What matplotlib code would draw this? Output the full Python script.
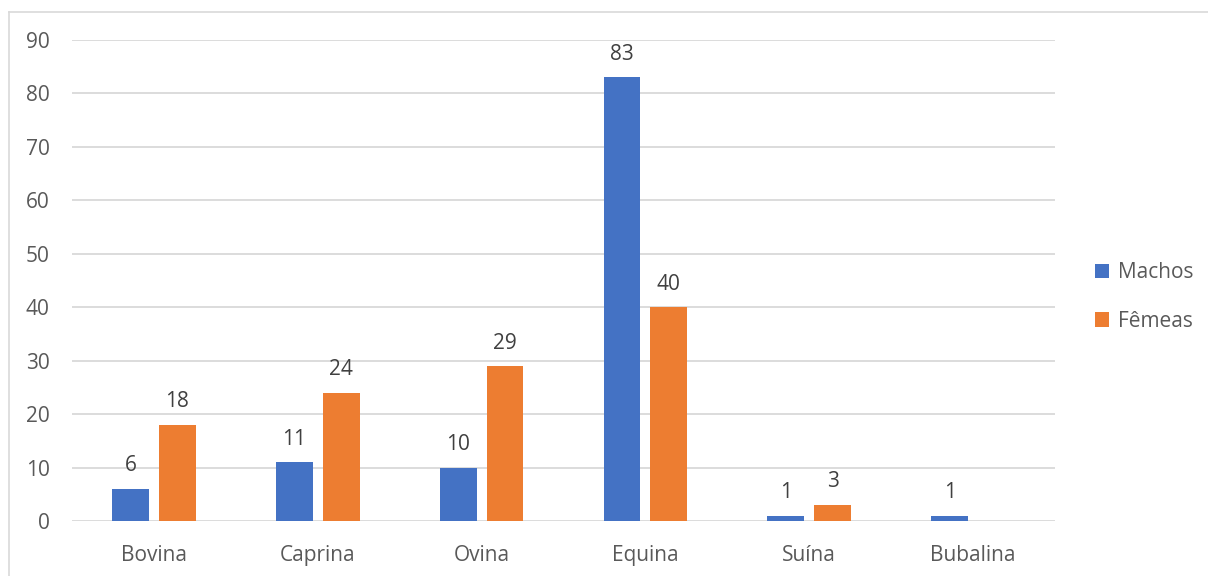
import matplotlib as mpl
mpl.use('Agg')
import matplotlib.pyplot as plt
import numpy as np
from matplotlib.lines import Line2D

categories = ['Bovina', 'Caprina', 'Ovina', 'Equina', 'Suína', 'Bubalina']
machos = [6, 11, 10, 83, 1, 1]
femeas = [18, 24, 29, 40, 3, None]

blue = '#4472c4'
orange = '#ed7d31'
txt = '#595959'
grid = '#d9d9d9'
fs = 15

plt.rcParams['font.family'] = ['Open Sans', 'DejaVu Sans']

fig = plt.figure(figsize=(12.08, 5.76), dpi=100)
ax = fig.add_axes([72/1208, 1-521/576, (1055-72)/1208, (521-40)/576])

x = np.arange(len(categories))
w = 0.225
off = 0.143
fem_vals = [v if v is not None else 0 for v in femeas]
b1 = ax.bar(x - off, machos, w, color=blue, label='Machos', zorder=3)
b2 = ax.bar(x + off, fem_vals, w, color=orange, label='Fêmeas', zorder=3)

for xi, v in zip(x, machos):
    ax.annotate(str(v), (xi - off, v), xytext=(0, 9), textcoords='offset points',
                ha='center', va='bottom', fontsize=fs, color='#404040')
for xi, v in zip(x, femeas):
    if v is None:
        continue
    ax.annotate(str(v), (xi + off, v), xytext=(0, 9), textcoords='offset points',
                ha='center', va='bottom', fontsize=fs, color='#404040')

ax.set_xlim(-0.5, len(categories) - 0.5)
ax.set_ylim(0, 90)
ax.set_yticks(range(0, 91, 10))
ax.set_xticks(x)
ax.set_xticklabels(categories)
ax.yaxis.grid(True, color=grid, linewidth=1.3, zorder=0)
ax.tick_params(axis='both', length=0, labelsize=fs, labelcolor=txt)
ax.tick_params(axis='y', pad=16)
ax.tick_params(axis='x', pad=17)
for s in ax.spines.values():
    s.set_visible(False)

leg = fig.legend(handles=[b1, b2], loc='center left', bbox_to_anchor=(1076/1208, 1-297/576),
                 frameon=False, fontsize=fs, handlelength=0.7, handleheight=0.7,
                 handletextpad=0.4, labelspacing=1.3)
for t in leg.get_texts():
    t.set_color(txt)

# chart border
fig.add_artist(Line2D([9/1208, 9/1208], [0, 1-12/576], color=grid, linewidth=1.2))
fig.add_artist(Line2D([9/1208, 1], [1-12/576, 1-12/576], color=grid, linewidth=1.2))

fig.savefig('out.png', dpi=100)
